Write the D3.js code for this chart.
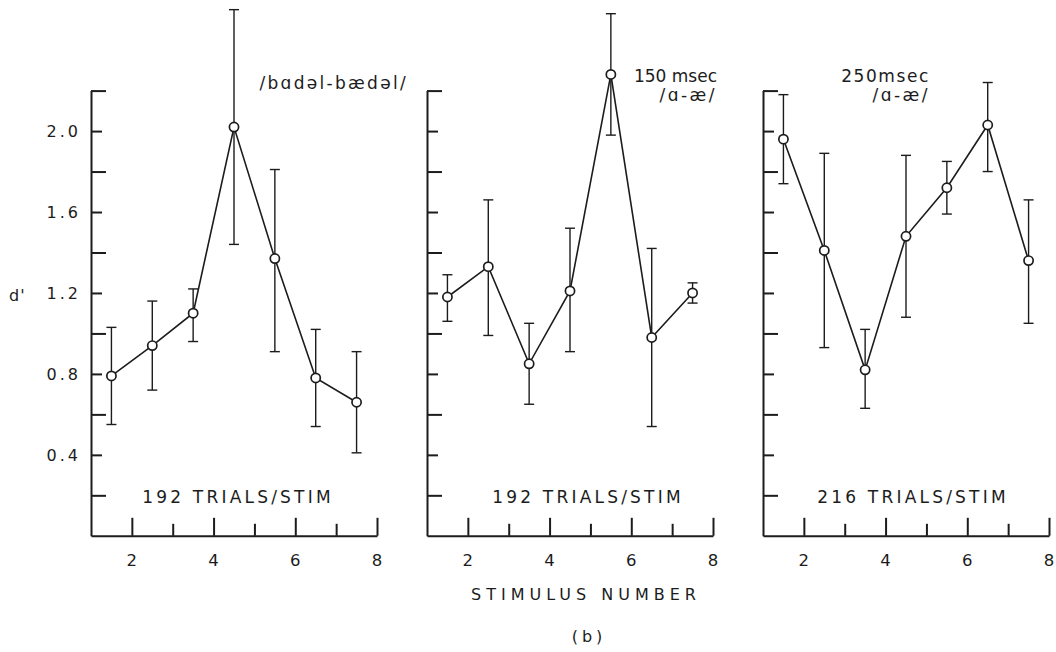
<!DOCTYPE html>
<html>
<head>
<meta charset="utf-8">
<script src="https://cdn.jsdelivr.net/npm/d3@7"></script>
<style>
  body { margin: 0; background: #fff; }
  svg text { font-family: "DejaVu Sans", sans-serif; fill: #1c1c1c; }
</style>
</head>
<body>
<svg id="chart" width="1056" height="652"></svg>
<script>
// values
const stimulus = [1.5, 2.5, 3.5, 4.5, 5.5, 6.5, 7.5];

const badelMean = [0.79, 0.94, 1.10, 2.02, 1.37, 0.78, 0.66];
const badelHigh = [1.03, 1.16, 1.22, 2.60, 1.81, 1.02, 0.91];
const badelLow  = [0.55, 0.72, 0.96, 1.44, 0.91, 0.54, 0.41];

const vowel150Mean = [1.18, 1.33, 0.85, 1.21, 2.28, 0.98, 1.20];
const vowel150High = [1.29, 1.66, 1.05, 1.52, 2.58, 1.42, 1.25];
const vowel150Low  = [1.06, 0.99, 0.65, 0.91, 1.98, 0.54, 1.15];

const vowel250Mean = [1.96, 1.41, 0.82, 1.48, 1.72, 2.03, 1.36];
const vowel250High = [2.18, 1.89, 1.02, 1.88, 1.85, 2.24, 1.66];
const vowel250Low  = [1.74, 0.93, 0.63, 1.08, 1.59, 1.80, 1.05];

const yTicks  = [0.2, 0.4, 0.6, 0.8, 1.0, 1.2, 1.4, 1.6, 1.8, 2.0, 2.2];
const yLabels = [0.4, 0.8, 1.2, 1.6, 2.0];
const xTicks  = [2, 3, 4, 5, 6, 7, 8];
const xLabels = [2, 4, 6, 8];

const conditionTitles = [["/bɑdəl-bædəl/"], ["150 msec", "/ɑ-æ/"], ["250msec", "/ɑ-æ/"]];
const trialLabels = ["192 TRIALS/STIM", "192 TRIALS/STIM", "216 TRIALS/STIM"];

const panels = [
    {mean: badelMean, hi: badelHigh, lo: badelLow},
    {mean: vowel150Mean, hi: vowel150High, lo: vowel150Low},
    {mean: vowel250Mean, hi: vowel250High, lo: vowel250Low}
];

// layout
const panelLeft = [91, 427, 763];
const plotTop = 90.6;
const width = 286;
const height = 445.2;
const titleX = [317, 290, 167];
const trialX = [147, 161, 150];
const ink = "#1c1c1c";

const x = d3.scaleLinear([1, 8], [0, width]);
const y = d3.scaleLinear([0, 2.2], [height, 0]);

const svg = d3.select("#chart");

panels.forEach(function (p, i) {
    const g = svg.append("g")
        .attr("transform", "translate(" + panelLeft[i] + "," + plotTop + ")");

    const rows = stimulus.map((s, k) => ({x: s, v: p.mean[k], hi: p.hi[k], lo: p.lo[k]}));

    // left axis, ticks pointing inward
    const yAxis = g.append("g")
        .call(d3.axisRight(y).tickValues(yTicks).tickSize(15).tickSizeOuter(0).tickFormat(""));
    yAxis.selectAll(".tick line")
        .attr("x2", d => yLabels.some(l => Math.abs(l - d) < 1e-6) ? 11 : 15);

    // bottom axis, ticks pointing up
    const xAxis = g.append("g")
        .attr("transform", "translate(0," + height + ")")
        .call(d3.axisTop(x).tickValues(xTicks).tickSize(18).tickSizeOuter(0).tickFormat(""));
    xAxis.selectAll(".tick line")
        .attr("y2", d => d % 2 === 0 ? -18 : -12);

    g.selectAll(".domain, .tick line")
        .attr("stroke", ink)
        .attr("stroke-width", 2);

    // x tick labels
    g.selectAll("text.xlab")
        .data(xLabels)
        .join("text")
        .attr("class", "xlab")
        .attr("x", d => x(d))
        .attr("y", height + 30)
        .attr("text-anchor", "middle")
        .style("font-size", "16.5px")
        .text(d => d);

    if (i === 0) {
        g.selectAll("text.ylab")
            .data(yLabels)
            .join("text")
            .attr("class", "ylab")
            .attr("x", -10)
            .attr("y", d => y(d) + 6)
            .attr("text-anchor", "end")
            .style("font-size", "16px")
            .style("letter-spacing", "3px")
            .text(d => d.toFixed(1));
    }

    // error bars
    const bars = g.append("g")
        .attr("stroke", ink)
        .attr("stroke-width", 1.4);
    bars.selectAll("line.stem")
        .data(rows)
        .join("line")
        .attr("class", "stem")
        .attr("x1", d => x(d.x)).attr("x2", d => x(d.x))
        .attr("y1", d => y(d.hi)).attr("y2", d => y(d.lo));
    bars.selectAll("line.cap")
        .data(rows.flatMap(d => [{x: d.x, v: d.hi}, {x: d.x, v: d.lo}]))
        .join("line")
        .attr("class", "cap")
        .attr("x1", d => x(d.x) - 5).attr("x2", d => x(d.x) + 5)
        .attr("y1", d => y(d.v)).attr("y2", d => y(d.v));

    const line = d3.line()
        .x(d => x(d.x))
        .y(d => y(d.v));

    g.append("path")
        .datum(rows)
        .attr("d", line)
        .attr("fill", "none")
        .attr("stroke", ink)
        .attr("stroke-width", 1.6);

    g.selectAll("circle")
        .data(rows)
        .join("circle")
        .attr("cx", d => x(d.x))
        .attr("cy", d => y(d.v))
        .attr("r", 4.6)
        .attr("fill", "#fff")
        .attr("stroke", ink)
        .attr("stroke-width", 1.7);

    // condition title, one text per line
    const lines = conditionTitles[i];
    g.selectAll("text.cond")
        .data(lines)
        .join("text")
        .attr("class", "cond")
        .attr("x", titleX[i])
        .attr("y", (d, k) => (lines.length === 1 ? -2 : -8.5) + k * 18.5)
        .attr("text-anchor", "end")
        .style("font-size", "17px")
        .style("letter-spacing", d => d.startsWith("/") ? (lines.length === 1 ? "2.3px" : "2.5px")
                                                     : (d.includes(" ") ? "0px" : "1.6px"))
        .text(d => d);

    g.append("text")
        .attr("x", trialX[i])
        .attr("y", height - 33)
        .attr("text-anchor", "middle")
        .style("font-size", "17px")
        .style("letter-spacing", "3.2px")
        .text(trialLabels[i]);
});

svg.append("text")
    .attr("x", 9)
    .attr("y", 301)
    .style("font-size", "16px")
    .style("letter-spacing", "1px")
    .text("d'");

svg.append("text")
    .attr("x", 586)
    .attr("y", 600)
    .attr("text-anchor", "middle")
    .style("font-size", "16px")
    .style("letter-spacing", "5px")
    .text("STIMULUS NUMBER");

svg.append("text")
    .attr("x", 589)
    .attr("y", 642)
    .attr("text-anchor", "middle")
    .style("font-size", "16px")
    .style("letter-spacing", "4px")
    .text("(b)");
</script>
</body>
</html>
